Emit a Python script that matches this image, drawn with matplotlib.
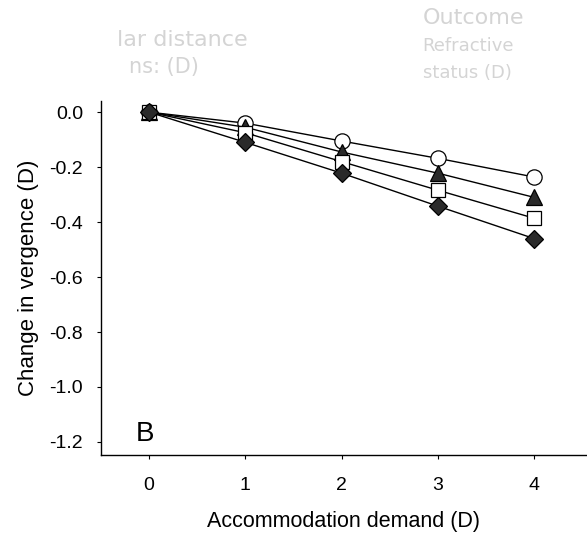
import matplotlib.pyplot as plt

plt.rcParams['font.family'] = ['Liberation Sans', 'DejaVu Sans']

# accommodation demand (D)
demand = [0, 1, 2, 3, 4]

# change in vergence (D) for each group
circles = [0.0, -0.04, -0.105, -0.168, -0.236]
triangles = [0.0, -0.055, -0.145, -0.222, -0.31]
squares = [0.0, -0.075, -0.18, -0.284, -0.386]
diamonds = [0.0, -0.11, -0.222, -0.342, -0.46]

yticks = [0.0, -0.2, -0.4, -0.6, -0.8, -1.0, -1.2]

fig = plt.figure(figsize=(5.87, 5.38), dpi=100)
ax = fig.add_axes([0.172, 0.154, 0.828, 0.658])

ax.plot(demand, circles, color='black', lw=1, marker='o', ms=11,
        mfc='white', mec='black', mew=0.9, zorder=3)
ax.plot(demand, triangles, color='black', lw=1, marker='^', ms=11,
        mfc='#2a2a2a', mec='black', mew=0.9, zorder=3)
ax.plot(demand, squares, color='black', lw=1, marker='s', ms=10,
        mfc='white', mec='black', mew=0.9, zorder=3)
ax.plot(demand, diamonds, color='black', lw=1, marker='D', ms=9.5,
        mfc='#2a2a2a', mec='black', mew=0.9, zorder=4)

ax.set_xlim(-0.5, 4.55)
ax.set_ylim(-1.248, 0.04)
ax.set_xticks(demand)
ax.set_yticks(yticks)
ax.set_yticklabels(['%.1f' % v for v in yticks])
ax.tick_params(direction='out', length=3, width=0.8, labelsize=14)
ax.tick_params(axis='y', pad=10)
ax.tick_params(axis='x', pad=13)

for side in ['top', 'right']:
    ax.spines[side].set_visible(False)
for side in ['left', 'bottom']:
    ax.spines[side].set_linewidth(1.0)

ax.set_xlabel('Accommodation demand (D)', fontsize=15.5, labelpad=12)
ax.set_ylabel('Change in vergence (D)', fontsize=16, labelpad=7)

ax.text(-0.14, -1.17, 'B', fontsize=20, ha='left', va='center')

# faint print-through from the facing page
ghost = '#d4d4d4'
fig.text(0.2, 0.915, 'lar distance', fontsize=16, color=ghost,
         family='DejaVu Sans')
fig.text(0.22, 0.865, 'ns: (D)', fontsize=15, color=ghost,
         family='DejaVu Sans')
fig.text(0.72, 0.955, 'Outcome', fontsize=16, color=ghost,
         family='DejaVu Sans')
fig.text(0.72, 0.905, 'Refractive', fontsize=13, color=ghost,
         family='DejaVu Sans')
fig.text(0.72, 0.855, 'status (D)', fontsize=13, color=ghost,
         family='DejaVu Sans')

fig.savefig('out.png', dpi=100)
